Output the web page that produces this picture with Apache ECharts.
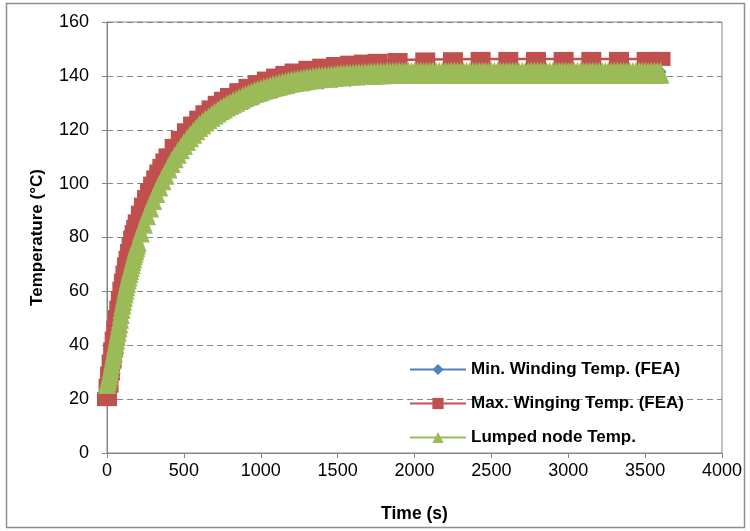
<!DOCTYPE html>
<html>
<head>
<meta charset="utf-8">
<script src="https://cdn.jsdelivr.net/npm/echarts@6/dist/echarts.min.js"></script>
<style>
  html, body { margin: 0; padding: 0; background: #fff; }
  #chart { width: 750px; height: 531px; }
</style>
</head>
<body>
<div id="chart"></div>
<script>
// FEA output times (s): adaptive step, fine at the start, coarse near steady state
var feaTimes = [0, 10, 20, 30, 40, 50, 60, 70, 80, 90, 100, 110, 120, 130, 140, 150, 160, 170, 180, 190, 200,
  220, 240, 260, 280, 300, 320, 340, 360, 380, 400,
  440, 480, 520, 560, 600, 640, 680, 720, 760, 800,
  860, 920, 980, 1040, 1100, 1160, 1220,
  1310, 1400, 1490, 1580, 1670, 1760, 1890,
  2070, 2250, 2430, 2610, 2790, 2970, 3150, 3330, 3510, 3600];

// Minimum winding temperature from FEA (°C)
var minWinding = [20, 24, 28, 31.5, 34.5, 37.5, 40.5, 43.5, 46.5, 50, 53.5, 56.3, 59, 61.5, 64, 66.3, 68.5, 70.7, 72.8, 74.8, 76.7,
  80.2, 83.5, 86.6, 89.5, 92.3, 94.9, 97.3, 99.6, 101.7, 103.7,
  107.4, 110.7, 113.6, 116.2, 118.5, 120.6, 122.3, 123.9, 125.4, 126.7,
  128.5, 130.2, 131.7, 133, 134.1, 135.1, 136,
  136.7, 137.4, 137.9, 138.4, 138.8, 139.2, 139.8,
  140.5, 140.9, 141.1, 141.3, 141.4, 141.4, 141.4, 141.4, 141.4, 141.4];

// Maximum winding temperature from FEA (°C)
var maxWinding = [20, 25, 29.5, 34, 38.5, 42.5, 46.5, 50.5, 54, 57.5, 61, 64, 67, 70, 72.5, 75, 77.5, 80, 82, 84, 86,
  89.2, 92.2, 95, 97.6, 100, 102.3, 104.5, 106.6, 108.6, 110.5,
  114, 117, 119.8, 122.3, 124.5, 126.5, 128.3, 130, 131.5, 132.9,
  134.7, 136.3, 137.7, 139, 140.1, 141.1, 142,
  143, 143.8, 144.4, 144.9, 145.3, 145.6, 145.9,
  146.1, 146.2, 146.3, 146.3, 146.3, 146.3, 146.3, 146.3, 146.3, 146.3];

// Lumped-node model temperature (°C): every 5 s from 0 to 195 s ...
var lumpedEarly = [26, 27, 28, 29.2, 30.5, 32, 33.5, 35, 36.5, 38,
  39.5, 41, 42.5, 44, 45.5, 47, 48.5, 50.2, 52, 53.8,
  55.5, 56.9, 58.3, 59.7, 61, 62.3, 63.5, 64.8, 66, 67.2,
  68.3, 69.4, 70.5, 71.6, 72.7, 73.8, 74.8, 75.8, 76.8, 77.8];
var earlyStep = 5;

// ... then every 20 s from 200 to 3600 s
var lumpedLate = [
  78.7,
  82.2, 85.5, 88.6, 91.5, 94.3, 96.9, 99.3, 101.6, 103.7, 106,
  108, 109.8, 111.5, 113.1, 114.7, 116.2, 117.6, 118.9, 120.2, 121.4,
  122.4, 123.4, 124.3, 125.2, 126, 126.8, 127.6, 128.3, 129, 129.6,
  130.2, 130.8, 131.4, 132, 132.5, 133, 133.5, 134, 134.4, 134.8,
  135.2, 135.5, 135.9, 136.2, 136.5, 136.8, 137.1, 137.4, 137.7, 137.9,
  138.1, 138.3, 138.5, 138.7, 138.8, 139, 139.2, 139.3, 139.5, 139.6,
  139.7, 139.8, 139.9, 140, 140.1, 140.2, 140.3, 140.4, 140.5, 140.5,
  140.6, 140.7, 140.7, 140.8, 140.8, 140.9, 140.9, 141, 141, 141,
  141.1, 141.1, 141.1, 141.2,
  141.2, 141.2, 141.2, 141.2, 141.2, 141.2, 141.2, 141.2, 141.2, 141.2,
  141.2, 141.2, 141.2, 141.2, 141.2, 141.2, 141.2, 141.2, 141.2, 141.2,
  141.2, 141.2, 141.2, 141.2, 141.2, 141.2, 141.2, 141.2, 141.2, 141.2,
  141.2, 141.2, 141.2, 141.2, 141.2, 141.2, 141.2, 141.2, 141.2, 141.2,
  141.2, 141.2, 141.2, 141.2, 141.2, 141.2, 141.2, 141.2, 141.2, 141.2,
  141.2, 141.2, 141.2, 141.2, 141.2, 141.2, 141.2, 141.2, 141.2, 141.2,
  141.2, 141.2, 141.2, 141.2, 141.2, 141.2, 141.2, 141.2, 141.2, 141.2,
  141.2, 141.2, 141.2, 141.2, 141.2, 141.2, 141.2, 141.2, 141.2, 141.2,
  141.2, 141.2, 141.2, 141.2, 141.2, 141.2];
var lateStart = 200, lateStep = 20;

var seriesNames = ['Min. Winding Temp. (FEA)', 'Max. Winging Temp. (FEA)', 'Lumped node Temp.'];
var xTicks = { min: 0, max: 4000, step: 500 };
var yTicks = { min: 0, max: 160, step: 20 };

function pairs(ts, values) {
  return ts.map(function (t, i) { return [t, values[i]]; });
}
var lumpedData = lumpedEarly.map(function (v, i) { return [i * earlyStep, v]; })
  .concat(lumpedLate.map(function (v, i) { return [lateStart + i * lateStep, v]; }));

var FONT = 'Liberation Sans';
var AXIS_GRAY = '#868686';

var chart = echarts.init(document.getElementById('chart'), null, { renderer: 'canvas' });

chart.setOption({
  backgroundColor: '#ffffff',
  animation: false,
  textStyle: { fontFamily: FONT },
  graphic: [{
    type: 'rect',
    shape: { x: 6.5, y: 3.5, width: 738, height: 524 },
    style: { fill: 'none', stroke: '#8e8e8e', lineWidth: 1.5 },
    z: -1
  }],
  grid: {
    left: 107, top: 22, width: 615, height: 431,
    show: true, borderColor: AXIS_GRAY, borderWidth: 1, backgroundColor: 'transparent'
  },
  legend: {
    orient: 'vertical',
    left: 404, top: 356,
    itemWidth: 56, itemHeight: 14, itemGap: 17,
    textStyle: { fontFamily: FONT, fontSize: 17, fontWeight: 'bold', color: '#000' },
    data: seriesNames
  },
  xAxis: {
    type: 'value',
    min: xTicks.min, max: xTicks.max, interval: xTicks.step,
    name: 'Time (s)', nameLocation: 'middle', nameGap: 52,
    nameTextStyle: { fontFamily: FONT, fontSize: 17.5, fontWeight: 'bold', color: '#000' },
    axisLine: { show: true, lineStyle: { color: AXIS_GRAY, width: 1 } },
    axisTick: { show: true, inside: false, length: 5, lineStyle: { color: AXIS_GRAY } },
    axisLabel: { fontFamily: FONT, fontSize: 18, color: '#000', margin: 9,
      formatter: function (v) { return String(v); } },
    splitLine: { show: false }
  },
  yAxis: {
    type: 'value',
    min: yTicks.min, max: yTicks.max, interval: yTicks.step,
    name: 'Temperature (°C)', nameLocation: 'middle', nameGap: 61, nameRotate: 90,
    nameTextStyle: { fontFamily: FONT, fontSize: 17, fontWeight: 'bold', color: '#000' },
    axisLine: { show: true, lineStyle: { color: AXIS_GRAY, width: 1 } },
    axisTick: { show: true, inside: false, length: 5, lineStyle: { color: AXIS_GRAY } },
    axisLabel: { fontFamily: FONT, fontSize: 18, color: '#000', margin: 18 },
    splitLine: { show: true, lineStyle: { color: AXIS_GRAY, type: [6, 4], width: 1 } }
  },
  series: [
    {
      name: seriesNames[0], type: 'line', data: pairs(feaTimes, minWinding),
      symbol: 'diamond', symbolSize: [12, 14], showAllSymbol: true,
      lineStyle: { color: '#4F81BD', width: 2.5 },
      itemStyle: { color: '#4F81BD', borderWidth: 0 }
    },
    {
      name: seriesNames[1], type: 'line', data: pairs(feaTimes, maxWinding),
      symbol: 'rect', symbolSize: [20, 14], showAllSymbol: true,
      lineStyle: { color: '#C0504D', width: 2.5 },
      itemStyle: { color: '#C0504D', borderWidth: 0 }
    },
    {
      name: seriesNames[2], type: 'line', data: lumpedData,
      symbol: 'triangle', symbolSize: [18, 22], showAllSymbol: true,
      lineStyle: { color: '#9BBB59', width: 3 },
      itemStyle: { color: '#9BBB59', borderWidth: 0 }
    }
  ]
});
</script>
</body>
</html>
